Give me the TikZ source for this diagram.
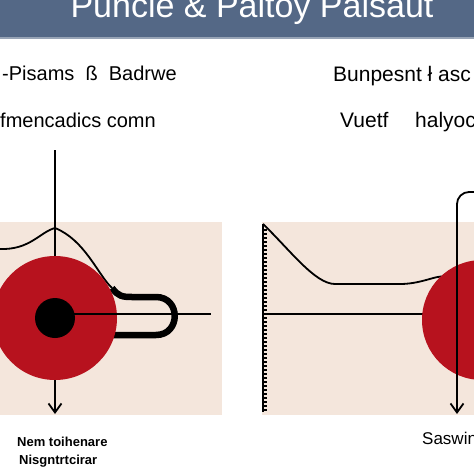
\documentclass[tikz,border=0pt]{standalone}
\usepackage{fontspec}
\setmainfont{Liberation Sans}
\usetikzlibrary{arrows.meta}
\definecolor{barblue}{HTML}{546886}
\definecolor{panelbeige}{HTML}{F4E6DC}
\definecolor{ballred}{HTML}{B7121E}
\tikzset{
  heading/.style={anchor=base west, inner sep=0pt, font=\fontsize{20}{22}\selectfont},
  caption/.style={anchor=base west, inner sep=0pt, font=\fontsize{13}{15}\selectfont\bfseries},
  redball/.style={circle, fill=ballred, minimum size=124pt, inner sep=0pt},
  blackdot/.style={circle, fill=black, minimum size=40pt, inner sep=0pt},
  wire/.style={line width=1.8pt, black},
}
\begin{document}
\begin{tikzpicture}[x=1pt, y=-1pt]
                    \useasboundingbox (0,0) rectangle (474,474);
                    \clip (0,0) rectangle (474,474);
                    \fill[white] (0,0) rectangle (474,474);

                    % title bar
                    \fill[barblue] (0,0) rectangle (474,38);
                    \fill[barblue!60] (0,37) rectangle (474,39);
                    \node[anchor=base, inner sep=0pt, text=white, font=\fontsize{34}{36}\selectfont] (title) at (252,17) {Puncle \& Paltoy Palsaut};

                    % headings
                    \node[heading] (headLA) at (2,80) {-Pisams \ ß \ Badrwe};
                    \node[heading] (headLB) at (0,127) {fmencadics comn};
                    \node[heading, font=\fontsize{21}{23}\selectfont] (headRA) at (333,81) {Bunpesnt ł asc};
                    \node[heading, font=\fontsize{21}{23}\selectfont] (headRB) at (340,127) {Vuetf};
                    \node[heading, font=\fontsize{21}{23}\selectfont] (headRC) at (415,127) {halyoc};

                    % panels
                    \fill[panelbeige] (0,222) rectangle (222,415);
                    \fill[panelbeige] (262,222) rectangle (474,415);

                    % left panel
                    \coordinate (topL) at (55,150);
                    \coordinate (forkL) at (55,228);
                    \coordinate (edgeL) at (0,249);
                    \coordinate (hookL) at (112,288);
                    \coordinate (endL) at (211,314);
                    \coordinate (tipL) at (55,414);
                    \draw[wire] (topL) -- (55,300);
                    \draw[wire] (edgeL) .. controls (30,250) and (40,232) .. (forkL);
                    \draw[wire] (forkL) .. controls (85,240) and (98,275) .. (hookL);
                    \draw[line width=6.5pt] (hookL) .. controls (118,296) and (122,297) .. (132,297)
                      -- (156,297) .. controls (181,297) and (181,335) .. (156,335) -- (110,335);
                    \node[redball] (ballL) at (55,318) {};
                    \node[blackdot] (dotL) at (55,318) {};
                    \draw[wire] (dotL.center) ++(0,-4) coordinate (rayL) -- (endL |- rayL);
                    \draw[wire, -{Straight Barb[length=9pt, width=13pt, line width=1.8pt]}] (ballL.south) -- (tipL);

                    % right panel
                    \coordinate (rulerTop) at (263,224);
                    \coordinate (rulerBot) at (263,412);
                    \draw[line width=1.8pt] (rulerTop) -- (rulerBot);
                    \foreach \y in {230,234,...,410}
                      \draw[line width=1.4pt] (263,\y) -- (267,\y);
                    \draw[wire] (rulerTop) .. controls (290,250) and (315,284) .. (335,284)
                      -- (400,284) .. controls (425,284) and (440,272) .. (450,278)
                      .. controls (460,284) and (470,287) .. (474,286);
                    \draw[wire] (263,314) -- (474,314);
                    \node[redball, minimum size=120pt] (ballR) at (482,320) {};
                    \coordinate (topR) at (474,192);
                    \coordinate (tipR) at (457,414);
                    \draw[wire, rounded corners=12pt] (topR) -- (457,192) -- (457,330);
                    \draw[wire, -{Straight Barb[length=9pt, width=13pt, line width=1.8pt]}] (457,330) -- (tipR);

                    % captions
                    \node[caption] (capLA) at (17,446) {Nem toihenare};
                    \node[caption] (capLB) at (19,464) {Nisgntrtcirar};
                    \node[caption, font=\fontsize{17}{19}\selectfont] (capR) at (422,444) {Saswins};
                \end{tikzpicture}
\end{document}
